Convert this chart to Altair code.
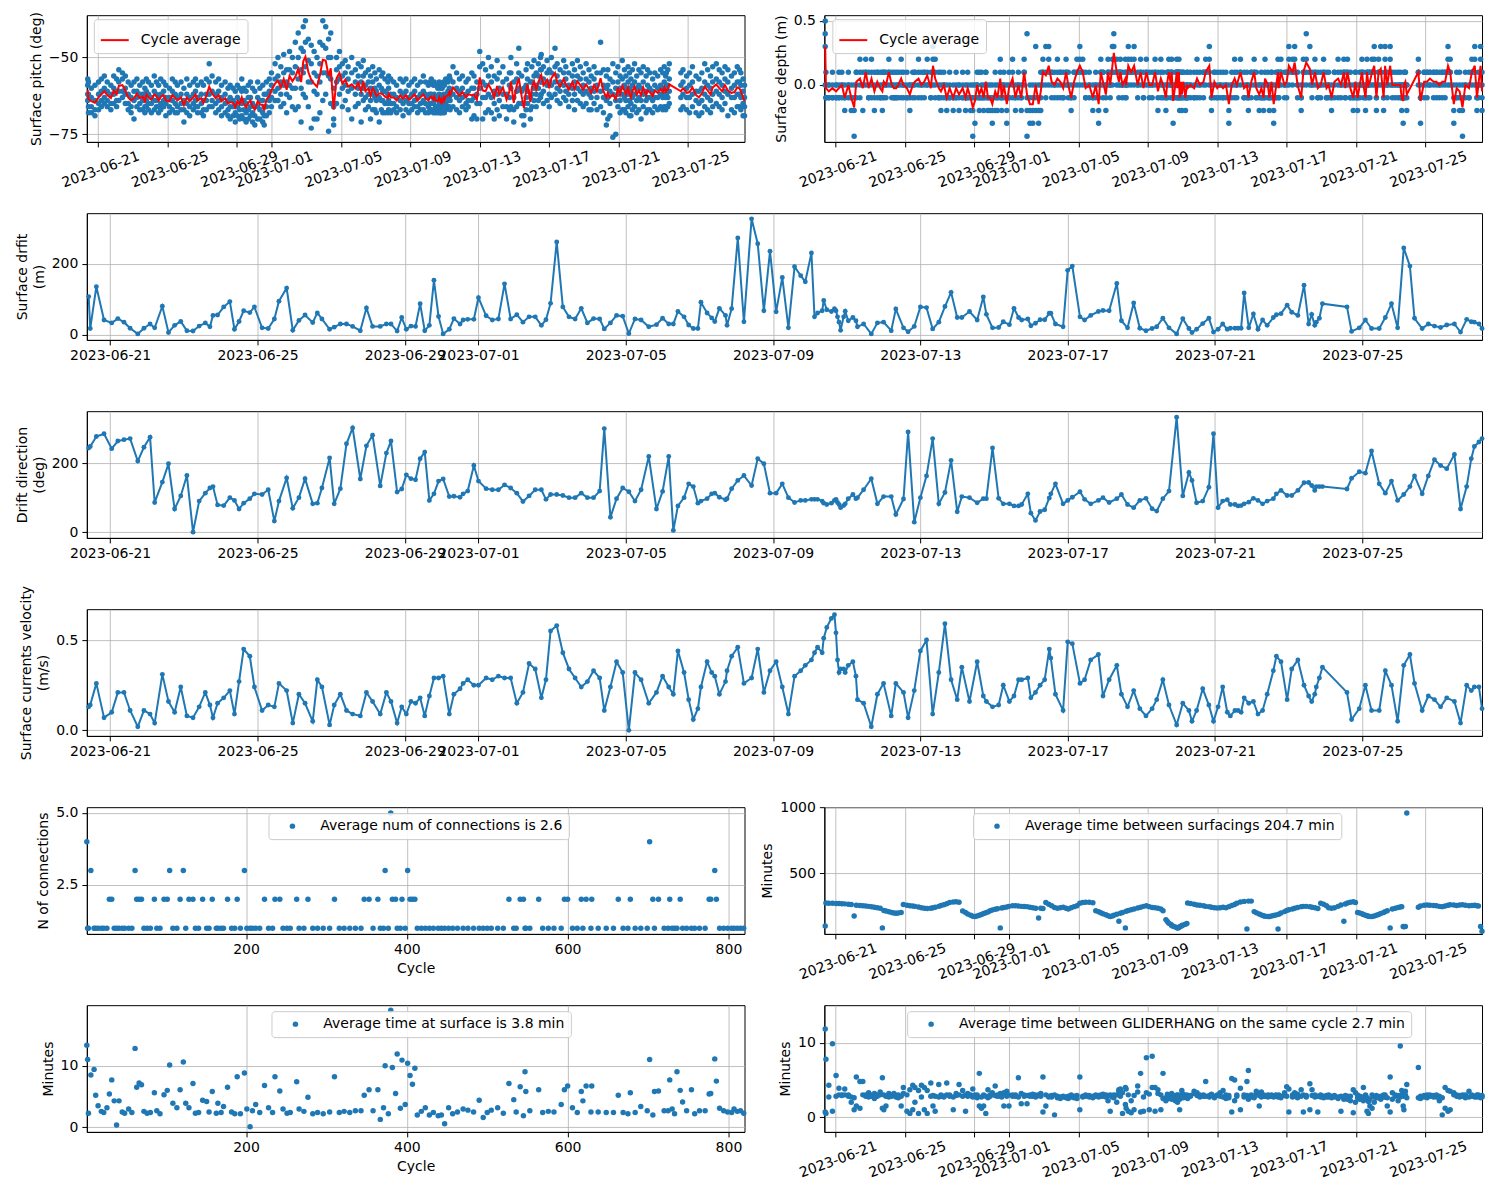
import altair as alt
import pandas as pd

# ---------------- data ----------------
# surfacing times, hours after 2023-06-20 00:00
HOURS = [10,11,15,20,25,29,33,37,42,46,50,53,58,62,66,70,74,78,82,86,
89,91,94,98,102,105,108,111,115,118,123,127,131,134,139,143,147,151,156,159,
162,167,170,174,178,182,187,191,195,200,204,207,211,214,217,220,223,226,229,232,
235,238,241,245,248,252,254,257,261,264,269,273,277,281,285,289,293,297,301,305,
308,311,315,319,323,327,331,335,339,343,346,350,354,358,362,366,370,375,380,384,
388,391,394,398,401,404,407,409,413,416,418,421,425,426,429,433,437,442,446,450,
454,458,462,466,470,474,477,481,483,485,488,489,491,494,496,497,498,499,500,502,
503,505,508,510,511,515,520,524,528,533,536,541,544,548,552,556,560,564,568,572,
576,579,584,589,593,595,599,603,606,610,613,616,618,622,624,627,630,633,636,637,
640,645,648,651,656,659,663,668,671,675,680,683,687,691,695,699,703,706,710,714,
719,723,727,729,732,736,740,743,746,749,752,754,757,759,761,763,766,769,772,775,
778,782,784,787,791,794,798,802,805,807,809,810,812,814,830,833,838,842,846,851,
855,859,863,867,871,874,879,883,887,891,895,900,904,908,911,913,916,918]

DRIFT = [107,17,135,41,33,45,35,18,2,18,30,19,80,6,26,37,11,10,24,33,
22,54,55,78,93,15,37,67,62,78,19,17,44,94,131,12,40,55,34,61,
44,15,21,30,30,23,11,75,23,23,30,30,10,48,15,24,23,87,11,26,
153,51,2,15,45,30,41,43,43,104,53,41,44,143,44,56,35,50,50,26,
42,88,261,78,50,44,74,33,45,44,16,33,54,52,3,44,41,22,28,46,
30,30,65,50,27,17,17,91,61,47,37,74,54,26,73,272,36,326,256,67,
235,64,161,19,191,166,149,230,50,61,67,96,70,65,73,67,50,35,12,50,
66,39,48,39,22,30,2,33,35,11,72,19,8,23,78,76,16,35,79,119,
48,48,65,41,106,57,19,20,36,28,74,48,41,44,25,32,42,42,60,60,
30,22,181,193,50,41,54,65,68,67,144,39,19,89,18,11,17,22,46,19,
2,45,17,6,15,31,46,7,15,30,15,18,18,18,18,117,19,58,15,41,
26,48,56,59,83,63,54,139,30,57,26,35,46,87,78,9,19,41,17,17,
48,87,19,244,193,46,17,30,24,20,27,30,7,43,36,35,30,17]

DIRECTION = [244,248,277,285,242,264,268,271,206,246,275,86,145,198,67,105,164,0,90,113,
128,132,79,77,100,92,67,84,97,111,109,123,32,90,157,69,100,155,82,84,
128,215,82,126,256,302,154,250,281,134,229,264,116,125,166,155,152,213,232,92,
111,148,154,103,104,101,111,119,193,148,126,123,123,137,128,113,89,105,123,123,
95,109,109,106,100,100,113,100,100,119,300,43,97,128,117,90,123,219,67,118,
219,5,76,100,140,132,84,90,97,111,113,101,94,97,126,150,164,135,213,198,
113,113,140,100,86,92,92,95,95,95,90,84,80,84,92,95,86,80,71,77,
82,97,109,97,100,123,155,82,103,103,51,96,290,29,100,163,271,82,115,208,
59,103,100,85,97,97,244,98,82,82,76,76,80,111,55,34,60,65,99,111,
140,82,92,101,117,95,82,92,100,86,97,109,80,71,92,98,68,61,97,119,
333,105,173,150,85,90,130,285,71,90,94,80,80,76,77,82,87,98,92,82,
90,97,111,121,106,106,121,143,144,135,121,132,132,132,125,156,175,171,235,140,
113,148,92,109,132,163,111,163,210,193,184,225,67,132,213,248,261,271]

# surface current velocity in cm/s
VELOCITY_CM = [13,14,26,7,10,21,21,11,2,11,9,4,31,16,10,24,8,7,13,21,
14,7,15,18,22,9,27,45,41,24,11,14,13,26,22,4,20,15,5,28,
24,3,14,20,11,9,8,21,16,9,21,16,4,13,9,16,15,18,8,19,
29,29,30,9,20,23,26,28,25,25,29,28,30,29,29,15,21,37,34,18,
28,55,58,43,34,29,24,27,33,29,11,24,38,32,0,32,28,15,21,30,
24,20,44,32,17,6,12,24,38,32,30,20,27,33,41,46,26,29,45,21,
33,38,24,9,30,33,36,39,43,46,43,51,57,62,64,54,39,32,34,34,
32,36,38,30,17,15,2,20,26,8,26,21,7,22,44,50,9,32,59,28,
17,35,16,38,19,16,13,14,25,16,19,28,28,29,18,21,25,28,45,40,
20,11,49,48,26,28,39,42,19,28,36,20,13,22,12,8,12,17,28,14,
3,15,11,5,11,23,14,5,13,24,10,8,11,11,10,18,15,16,9,11,
20,33,41,38,17,34,39,25,19,16,20,24,29,35,21,6,12,25,11,11,
33,25,5,36,42,26,11,19,17,13,18,16,4,25,22,24,24,12]

# pitch samples at each surfacing (deg)
PITCH = [
[-57,-59,-62,-64],[-58,-62,-66,-68],[-60,-63,-66,-68],[-59,-64,-67,-69],[-58,-62,-65,-67],
[-57,-61,-64,-66],[-56,-60,-63,-65],[-58,-61,-64,-66],[-59,-62,-65,-67],[-56,-60,-62,-65],
[-57,-61,-64,-66],[-54,-58,-61,-64],[-55,-57,-61,-63],[-56,-60,-62,-65],[-58,-62,-65,-67],
[-59,-63,-66,-68],[-58,-61,-64,-70],[-57,-61,-63,-66],[-59,-62,-65,-67],[-58,-62,-64,-67],
[-60,-63,-66,-68],[-57,-61,-64,-66],[-58,-62,-65,-67],[-59,-63,-65,-68],[-56,-61,-64,-67],
[-58,-62,-64,-66],[-59,-63,-66,-68],[-57,-62,-65,-67],[-58,-61,-64,-66],[-59,-63,-65,-69],
[-60,-63,-66,-68],[-57,-61,-64,-67],[-58,-62,-65,-68],[-59,-63,-66,-68],[-58,-62,-65,-67],
[-60,-64,-67,-71],[-57,-62,-65,-68],[-59,-63,-66,-69],[-58,-62,-65,-67],[-57,-61,-64,-66],
[-59,-63,-66,-68],[-58,-62,-65,-68],[-59,-64,-67,-69],[-57,-62,-64,-67],[-52,-58,-62,-66],
[-56,-61,-64,-66],[-58,-62,-65,-68],[-57,-61,-64,-67],[-59,-63,-66,-69],[-58,-62,-65,-68],
[-60,-64,-67,-69],[-59,-63,-66,-70],[-60,-64,-66,-69],[-61,-65,-68,-71],[-59,-63,-66,-69],
[-60,-64,-67,-70],[-57,-61,-65,-69],[-60,-64,-67,-70],[-61,-65,-68,-71],[-59,-63,-67,-70],
[-58,-63,-66,-69],[-60,-65,-68,-71],[-61,-66,-69,-72],[-58,-63,-66,-70],[-60,-64,-67,-70],
[-59,-64,-68,-71],[-62,-66,-69,-72],[-58,-62,-66,-69],[-57,-61,-64,-68],[-55,-59,-63,-66],
[-52,-57,-61,-64],[-50,-56,-60,-64],[-53,-58,-62,-66],[-49,-55,-59,-65],[-54,-58,-62,-68],
[-48,-54,-59,-63],[-50,-55,-60,-66],[-45,-53,-60,-67],[-42,-50,-57,-66],[-47,-54,-60,-71],
[-40,-48,-55,-62],[-38,-45,-53,-63],[-44,-51,-58,-66],[-46,-52,-58,-73],[-48,-55,-61,-70],
[-50,-56,-62,-70],[-45,-52,-58,-68],[-38,-46,-55,-64],[-40,-47,-55,-62],[-44,-50,-56,-74],
[-42,-50,-57,-65],[-60,-66,-70,-72],[-50,-54,-58,-65],[-48,-53,-57,-62],[-52,-56,-60,-66],
[-51,-55,-59,-64],[-53,-57,-61,-67],[-50,-55,-60,-70],[-54,-58,-62,-66],[-52,-56,-60,-65],
[-53,-58,-62,-71],[-51,-56,-60,-64],[-55,-59,-63,-67],[-54,-58,-62,-66],[-56,-60,-64,-70],
[-53,-58,-62,-67],[-55,-60,-63,-67],[-57,-61,-64,-68],[-54,-59,-63,-71],[-56,-60,-64,-67],
[-55,-61,-64,-68],[-57,-61,-65,-68],[-58,-62,-65,-68],[-56,-60,-64,-67],[-57,-62,-65,-68],
[-58,-62,-65,-67],[-59,-63,-66,-68],[-57,-61,-64,-67],[-58,-62,-65,-69],[-57,-61,-64,-67],
[-59,-63,-65,-68],[-58,-62,-65,-67],[-57,-61,-64,-66],[-59,-63,-66,-68],[-58,-62,-65,-67],
[-56,-61,-64,-67],[-58,-62,-65,-68],[-59,-63,-66,-68],[-58,-62,-65,-67],[-57,-62,-65,-67],
[-59,-63,-65,-68],[-58,-62,-64,-67],[-59,-63,-66,-68],[-60,-63,-66,-68],[-58,-62,-65,-67],
[-59,-63,-66,-68],[-60,-64,-66,-68],[-59,-63,-66,-67],[-60,-64,-66,-68],[-58,-62,-65,-67],
[-59,-63,-66,-68],[-57,-62,-65,-67],[-58,-61,-64,-66],[-56,-60,-63,-66],[-57,-61,-64,-67],
[-53,-58,-62,-66],[-55,-60,-63,-67],[-57,-61,-64,-68],[-56,-60,-63,-66],[-58,-62,-65,-67],
[-57,-61,-64,-66],[-55,-60,-64,-70],[-56,-60,-63,-69],[-58,-62,-65,-70],[-48,-53,-60,-65],
[-52,-58,-63,-70],[-54,-59,-63,-68],[-50,-56,-62,-67],[-53,-58,-63,-68],[-56,-61,-65,-70],
[-51,-57,-62,-67],[-55,-60,-64,-69],[-53,-58,-62,-66],[-57,-62,-66,-70],[-55,-59,-63,-67],
[-50,-55,-60,-66],[-58,-63,-67,-71],[-52,-57,-61,-66],[-47,-55,-60,-65],[-56,-61,-65,-69],
[-60,-65,-69,-72],[-54,-59,-63,-67],[-52,-57,-61,-65],[-58,-63,-67,-70],[-53,-58,-62,-66],
[-51,-56,-60,-64],[-55,-59,-62,-66],[-52,-56,-60,-64],[-50,-54,-58,-63],[-49,-54,-58,-62],
[-53,-57,-61,-65],[-51,-55,-59,-64],[-54,-58,-62,-66],[-50,-55,-59,-63],[-47,-53,-58,-62],
[-52,-56,-60,-64],[-54,-58,-61,-65],[-51,-55,-59,-63],[-53,-57,-61,-64],[-55,-59,-62,-66],
[-52,-56,-60,-64],[-54,-58,-62,-67],[-51,-56,-60,-64],[-53,-57,-61,-65],[-55,-59,-62,-66],
[-52,-57,-61,-65],[-54,-58,-62,-67],[-56,-60,-63,-67],[-53,-57,-61,-65],[-55,-59,-63,-67],
[-45,-55,-61,-66],[-54,-59,-63,-68],[-56,-60,-64,-72],[-54,-59,-63,-70],[-57,-61,-65,-69],
[-52,-58,-62,-76],[-55,-60,-64,-75],[-53,-58,-62,-66],[-56,-60,-64,-68],[-51,-57,-62,-67],
[-54,-59,-63,-67],[-56,-60,-64,-68],[-53,-58,-62,-66],[-55,-60,-64,-69],[-57,-61,-65,-69],
[-54,-59,-63,-67],[-52,-58,-62,-66],[-56,-60,-64,-68],[-54,-59,-63,-67],[-55,-60,-64,-70],
[-53,-58,-62,-66],[-56,-61,-64,-68],[-54,-59,-63,-67],[-55,-60,-63,-67],[-57,-61,-64,-68],
[-55,-59,-63,-66],[-56,-60,-63,-67],[-54,-59,-62,-66],[-55,-60,-63,-67],[-53,-58,-62,-66],
[-56,-60,-63,-67],[-55,-59,-62,-66],[-54,-59,-63,-66],[-52,-57,-61,-65],[-55,-59,-63,-67],
[-54,-58,-62,-66],[-56,-60,-63,-67],[-55,-59,-63,-68],[-53,-58,-62,-66],[-56,-61,-64,-68],
[-57,-61,-65,-69],[-55,-60,-64,-68],[-52,-58,-62,-66],[-54,-59,-63,-67],[-56,-60,-64,-68],
[-53,-58,-62,-66],[-52,-57,-61,-65],[-54,-58,-62,-66],[-55,-59,-63,-67],[-53,-57,-61,-65],
[-54,-58,-62,-69],[-56,-60,-63,-67],[-55,-59,-63,-68],[-53,-58,-62,-66],[-54,-58,-62,-66],
[-55,-59,-63,-67],[-57,-61,-65,-69],[-59,-63,-66,-69]]

# surface depth samples at each surfacing, in decimetres
DEPTH_DM = [
[5,4,3,0],[0,-1,-1,1],[0,-1,0,-1],[1,-1,0,-1],[0,-1,-1,0],[1,0,-1,-1],[0,1,-1,0],[-1,0,-2,-1],[1,0,-1,0],[-1,-2,0,-1],
[-4,-1,0,-2],[0,1,-1,1],[2,1,0,-1],[1,0,-2,0],[2,1,1,0],[0,-1,1,-1],[1,2,0,-1],[-2,-1,0,1],[1,0,-1,1],[0,1,-1,-1],
[-1,-2,0,1],[1,1,0,-1],[0,-1,1,0],[2,1,0,1],[1,0,-1,0],[0,1,-1,-1],[-1,0,1,-1],[0,1,-1,0],[1,2,0,-1],[-1,0,1,0],
[0,-1,-1,1],[-2,-1,0,0],[1,0,-1,0],[0,1,1,-1],[2,1,0,-1],[0,-1,1,0],[1,0,-1,1],[2,1,0,0],[-1,0,1,-1],[3,2,1,0],
[1,2,0,-1],[0,1,-1,-1],[-1,0,-2,1],[0,1,-1,0],[-1,-1,0,-2],[0,-1,-1,1],[-2,-1,0,-1],[1,0,-1,-1],[-1,-2,0,0],[1,0,-1,-1],
[-1,-2,-1,0],[0,-1,1,-1],[-2,-1,-1,0],[-4,-2,-1,0],[-3,-1,0,-1],[1,0,-1,0],[-1,-2,-1,1],[0,1,-1,-1],[-2,-1,0,-1],[1,0,-1,1],
[-1,-2,0,-1],[0,-1,-2,-1],[-3,-2,-1,0],[1,0,-1,-2],[-2,-1,0,-1],[1,2,0,-1],[-2,-1,-1,0],[0,1,-1,0],[-2,-3,-1,0],[1,0,-1,-1],
[2,1,0,-1],[-1,-2,0,-1],[1,0,-1,0],[-2,-1,0,-1],[2,1,1,0],[4,-4,-2,-1],[-3,-2,-1,0],[-3,-1,0,-2],[3,0,-1,-2],[-3,-2,-1,0],
[1,0,-1,-2],[2,1,0,1],[3,1,0,-1],[3,2,1,0],[1,0,1,-1],[0,-1,1,0],[2,1,0,-1],[1,0,1,-1],[-1,0,1,-1],[2,1,1,0],
[0,1,-1,0],[-1,-2,0,-1],[1,0,-1,1],[2,1,0,1],[3,2,1,0],[1,2,0,1],[-1,0,1,-1],[0,1,-1,0],[-2,-1,0,-1],[1,0,-1,0],
[-3,-2,-1,0],[2,1,0,1],[1,0,1,-1],[-2,-1,0,0],[2,1,0,1],[0,-1,1,0],[3,2,1,0],[4,3,2,1],[1,2,0,1],[0,1,1,-1],
[2,1,0,1],[-1,0,1,0],[1,2,0,-1],[0,-1,1,0],[3,2,1,0],[1,0,2,1],[2,3,1,0],[0,1,-1,0],[1,2,0,1],[-1,0,1,-1],
[2,1,0,1],[0,1,-1,0],[1,0,-1,0],[2,1,1,0],[-1,0,1,-2],[1,2,0,-1],[0,1,-1,0],[-2,-1,0,-1],[1,0,1,-1],[2,1,0,1],
[0,-1,1,0],[1,2,1,0],[-3,-1,0,-1],[1,0,-1,0],[2,1,0,1],[-1,0,1,-1],[0,1,-1,1],[1,2,0,1],[-1,0,-1,-2],[0,1,1,-1],
[-2,-1,0,0],[1,0,-1,1],[-1,0,-1,-2],[0,1,-1,0],[-1,0,1,-1],[1,0,-1,0],[0,1,-1,-1],[1,2,0,-1],[0,-1,1,0],[1,0,-1,1],
[2,1,0,1],[3,2,1,0],[-2,-1,0,-1],[1,0,1,-1],[0,-1,-1,1],[1,0,-1,0],[-1,0,1,-1],[0,1,-1,0],[-3,-2,-1,0],[1,0,-1,0],
[2,1,0,-1],[0,-1,1,0],[1,2,0,1],[-1,0,1,-1],[0,1,-1,0],[-2,-1,0,-1],[1,0,-1,1],[2,1,0,1],[0,1,-1,-1],[-2,-1,0,0],
[1,0,-1,-1],[-1,0,-2,-1],[1,2,0,-1],[0,1,-1,0],[-1,-2,0,-1],[1,0,1,-1],[-3,-2,-1,0],[0,1,-1,-1],[2,1,0,1],[-1,0,1,-1],
[1,2,0,1],[0,-1,1,0],[1,0,-1,1],[3,2,1,0],[1,2,0,1],[2,3,1,1],[0,1,-1,0],[-2,-1,0,-1],[2,1,0,1],[4,2,1,0],
[3,1,0,1],[1,0,-1,0],[2,1,0,1],[-1,0,1,-1],[1,0,-1,0],[2,1,0,1],[-1,0,1,-1],[0,1,-1,0],[-1,-2,0,-1],[1,0,-1,1],
[2,1,0,-1],[0,-1,1,0],[1,2,0,1],[-1,0,1,-1],[2,1,0,1],[0,-1,-1,1],[-2,-1,0,-1],[1,0,1,-1],[-1,0,-1,-2],[0,1,-1,0],
[2,1,0,1],[0,-1,1,0],[-2,-1,0,-1],[1,2,0,1],[0,-1,1,0],[1,0,-1,1],[2,1,0,1],[3,2,1,0],[-1,0,-2,-1],[2,1,0,1],
[3,1,0,1],[-2,-1,0,-1],[2,3,1,0],[0,1,-1,0],[3,2,1,0],[1,0,-1,0],[0,1,-1,0],[1,0,0,-1],[0,1,-1,0],[-2,-1,0,-1],
[-3,-1,0,-1],[0,1,-1,0],[1,0,1,-1],[-2,-1,0,0],[2,1,0,1],[-3,-1,0,-1],[1,0,1,-1],[0,1,1,-1],[1,0,1,0],[0,1,-1,1],
[1,0,1,-1],[0,1,0,-1],[1,0,1,-1],[0,1,-1,1],[3,2,1,0],[2,1,1,0],[-3,-2,-1,0],[1,0,-1,-1],[-1,0,1,-2],[-4,-2,-1,0],
[1,0,-1,0],[0,1,-1,-1],[2,1,0,1],[3,2,1,0],[-2,-1,0,-1],[1,0,-1,0],[3,2,1,0],[-2,0,1,-1]]

# minutes between surfacings
SURF_INTERVAL = [97,272,270,270,268,268,266,265,262,260,173,255,252,250,248,246,243,240,236,232,
82,214,210,205,200,196,194,196,200,260,255,250,248,246,242,236,232,230,232,236,
240,246,252,258,266,275,280,281,278,210,200,188,178,170,168,172,178,184,192,198,
204,212,218,224,228,82,234,238,242,246,250,250,248,246,245,244,240,236,232,158,
232,230,276,262,250,238,232,236,240,232,226,236,244,250,270,276,278,278,274,212,
205,198,190,182,174,168,172,178,186,133,194,200,82,208,214,220,226,234,240,246,
250,244,238,236,232,226,212,145,130,118,108,100,94,88,84,82,82,86,90,95,
100,104,110,116,272,268,262,256,254,250,246,244,240,236,234,236,240,236,244,252,
260,270,280,284,74,286,286,206,198,188,180,174,170,168,168,172,176,180,74,186,
196,206,214,220,226,232,238,244,246,246,244,240,236,230,270,262,250,236,232,236,
246,256,133,264,272,278,282,276,200,196,190,184,178,174,170,168,168,172,178,184,
192,200,206,212,82,226,232,238,242,244,92,90,92,958,240,248,254,256,254,252,
250,246,244,248,254,258,256,252,256,258,254,250,252,254,250,248,92,56]

# time between GLIDERHANG messages (tenths of a minute), two per surfacing
HANG_A = [119,78,43,99,56,39,30,38,30,27,26,54,48,48,30,33,28,32,30,34,
53,30,28,32,30,31,29,26,28,40,30,37,43,40,36,43,40,36,46,29,
28,44,30,28,46,30,27,32,44,36,30,28,30,38,28,30,59,27,30,28,
37,30,31,29,28,32,30,33,28,30,28,30,53,32,28,29,30,28,30,29,
32,54,30,28,27,30,26,27,28,26,28,27,28,29,54,28,30,27,28,30,
29,30,28,30,29,30,28,26,20,37,38,33,40,38,30,22,29,42,59,27,
80,31,82,40,37,30,59,26,31,28,27,32,29,28,25,27,30,26,24,30,
28,31,28,30,26,29,35,33,30,28,48,29,30,28,30,33,36,30,26,52,
50,28,39,27,48,63,30,28,32,29,34,30,28,27,29,30,28,29,27,30,
28,33,41,38,30,28,31,28,30,29,45,37,30,28,30,28,27,30,28,29,
27,28,26,27,24,28,37,33,30,28,25,40,30,26,21,24,30,27,29,26,
28,27,30,26,54,33,28,29,96,30,15,28,30,44,67,28,27,30,28,29,
27,28,3,40,8,35,33,30,29,28,30,35,28,27,30,28,27,29]
HANG_B = [7,5,27,8,28,30,29,30,28,20,10,15,12,30,28,27,30,25,28,30,
12,10,15,27,28,32,27,30,15,32,8,5,10,20,5,27,10,5,28,15,
8,27,28,27,30,28,10,29,30,28,8,32,29,27,30,26,15,12,15,5,
26,28,33,42,30,28,27,15,35,15,30,28,27,18,30,18,28,31,27,30,
28,7,15,27,29,3,28,25,27,27,25,30,26,25,10,27,28,29,26,28,
27,28,31,27,22,8,27,30,30,35,28,5,17,12,8,6,10,34,7,8,
33,10,40,8,32,10,25,22,27,25,30,24,27,22,30,20,26,28,10,27,
36,26,29,27,25,28,32,29,27,30,28,27,31,26,29,28,27,25,29,7,
22,30,10,30,29,24,27,26,35,15,27,28,29,30,28,28,27,30,28,28,
26,29,28,7,27,33,26,37,7,27,10,29,27,7,27,26,29,27,26,27,
25,8,24,29,28,22,6,20,26,24,27,22,28,8,5,15,12,20,26,27,
24,30,27,15,7,24,30,22,27,36,30,10,35,26,26,25,29,26,30,27,
30,22,26,12,36,10,30,28,27,30,26,27,30,28,27,30,26,27]

# per-cycle panels
CYCLES = [2,3,4,7,11,13,16,20,23,27,30,33,36,39,42,46,49,54,58,62,
64,67,70,73,77,81,86,89,93,98,102,105,109,114,118,122,125,129,134,137,
141,146,151,154,158,163,165,169,172,177,182,186,189,193,198,201,205,208,212,217,
223,228,233,236,242,246,251,255,263,266,272,277,283,289,296,304,310,316,322,329,
336,343,347,353,358,364,367,371,373,377,380,382,386,388,392,394,398,401,404,407,
410,413,418,423,428,433,439,443,447,452,457,463,470,476,483,490,495,500,505,513,
520,527,533,536,541,545,547,548,553,564,569,576,583,592,596,600,606,612,617,619,
623,629,630,638,648,657,663,669,675,678,684,691,699,702,706,708,713,720,725,727,
730,733,736,740,743,748,754,758,764,771,776,778,783,785,789,794,799,804,807,811,
815,819]
CONNECTIONS = [4,1,1,3,1,1,1,1,1,1,2,2,1,1,1,1,1,1,1,3,
2,2,2,1,1,1,2,1,1,2,2,3,1,1,2,3,1,2,2,1,
1,2,1,1,2,1,1,1,1,2,1,1,2,1,3,1,1,1,1,1,
2,1,1,2,2,1,1,1,2,1,1,2,1,1,1,1,2,1,1,1,
1,1,2,2,1,2,1,1,3,1,5,2,2,1,1,2,1,3,2,2,
2,1,1,1,1,1,1,1,1,1,1,1,1,1,1,1,1,1,1,1,
1,2,1,1,2,2,1,1,1,2,1,1,1,1,2,2,1,1,2,1,
2,1,2,1,1,1,2,1,1,2,1,1,1,4,2,1,2,1,1,2,
1,1,1,2,1,1,1,1,1,1,2,2,3,2,1,1,1,1,1,1,
1,1]
TIME_AT_SURFACE = [13.3,11,2.3,8.5,9.4,5.2,3.5,2.6,2.4,3.2,5.4,7.7,4.3,0.4,4.3,2.5,2.3,3,2.4,12.8,
6.5,7.2,6.9,2.6,2.3,2.4,5.6,2.7,2.2,5.3,6,10.1,3.9,3.2,6.1,10.6,3.9,3.2,7.1,2.3,
2.4,4.4,4.2,2.5,5.8,2.3,3.9,2.4,3.4,6.5,2.5,2.2,8.2,2.2,8.8,3,0.1,2.7,3.7,2.4,
6.8,3.2,2.4,8.2,5.9,3,2.3,2.4,7.4,3,2.6,4.9,2.2,2.4,2.2,2.5,8.2,2.4,2.6,2.4,
2.7,2.7,5.2,6.1,2.7,6.1,1.3,3.2,10,2.2,19,9.7,5.5,11.9,3.1,10.9,3.7,10.4,8.4,7,
9.6,2,2.6,3.2,2,2.4,1.9,2,0.6,3.2,2.2,2.5,3,2.8,2.5,4.4,1.6,2.4,2.8,3.2,
2.3,7.1,4.5,2.5,6.6,1.9,9,5.8,2.7,6.1,2.4,2.6,2.5,3.7,6.1,6.7,3.2,2.4,5.8,4.3,
6.7,2.5,6.7,2.5,2.4,2.4,5.2,2.4,2.2,5.6,2.4,3.4,2.7,11,2,5.8,5.9,2.7,2.7,7.7,
3,2.2,9,6,4.1,2.7,6.1,2.2,2.7,2.7,5.4,5.5,11.1,7.5,3.1,2.7,2.5,2.4,3,2.6,
2.7,2.3]

LEG_CONN = "Average num of connections is 2.6"
LEG_SURF = "Average time between surfacings 204.7 min"
LEG_TSURF = "Average time at surface is 3.8 min"
LEG_HANG = "Average time between GLIDERHANG on the same cycle 2.7 min"

# ---------------- build tables ----------------
BLUE = "#1f77b4"
FONT = "DejaVu Sans"
base = pd.Timestamp("2023-06-20")
TIMES = [base + pd.Timedelta(hours=h) for h in HOURS]

n = min(len(TIMES), len(DRIFT), len(DIRECTION), len(VELOCITY_CM))
series = pd.DataFrame({"t": TIMES[:n], "drift": DRIFT[:n], "dir": DIRECTION[:n],
                       "vel": [v / 100 for v in VELOCITY_CM[:n]]})

pitch_pts = pd.DataFrame([(t, v) for t, vals in zip(TIMES, PITCH) for v in vals], columns=["t", "v"])
pitch_avg = pd.DataFrame([(t, sum(vals) / len(vals), "Cycle average") for t, vals in zip(TIMES, PITCH)],
                         columns=["t", "v", "s1"])
depth_pts = pd.DataFrame([(t, v / 10) for t, vals in zip(TIMES, DEPTH_DM) for v in vals], columns=["t", "v"])
depth_avg = pd.DataFrame([(t, sum(vals) / len(vals) / 10, "Cycle average") for t, vals in zip(TIMES, DEPTH_DM)],
                         columns=["t", "v", "s2"])
surf_df = pd.DataFrame([(t, v, LEG_SURF) for t, v in zip(TIMES, SURF_INTERVAL)], columns=["t", "v", "s3"])
hang_df = pd.DataFrame([(t, v / 10, LEG_HANG) for t, a, b in zip(TIMES, HANG_A, HANG_B) for v in (a, b)],
                       columns=["t", "v", "s4"])
conn_df = pd.DataFrame([(c, v, LEG_CONN) for c, v in zip(CYCLES, CONNECTIONS)], columns=["c", "v", "s5"])
tsurf_df = pd.DataFrame([(c, v, LEG_TSURF) for c, v in zip(CYCLES, TIME_AT_SURFACE)], columns=["c", "v", "s6"])

# ---------------- helpers ----------------
def dt(y, m, d, h=0, mi=0):
    return alt.DateTime(year=y, month=m, date=d, hours=h, minutes=mi)

X_DOMAIN = [dt(2023, 6, 20, 8, 48), dt(2023, 7, 28, 6, 0)]
DATE_TICKS = [dt(2023, 6, 21), dt(2023, 6, 25), dt(2023, 6, 29), dt(2023, 7, 1), dt(2023, 7, 5),
              dt(2023, 7, 9), dt(2023, 7, 13), dt(2023, 7, 17), dt(2023, 7, 21), dt(2023, 7, 25)]


def x_date(rot):
    kw = dict(values=DATE_TICKS, format="%Y-%m-%d")
    if rot:
        kw.update(labelAngle=340, labelAlign="center", labelBaseline="top", labelPadding=16)
    return alt.X("t:T", title=None, scale=alt.Scale(domain=X_DOMAIN, nice=False), axis=alt.Axis(**kw))


def x_cycle():
    return alt.X("c:Q", title="Cycle", scale=alt.Scale(domain=[2, 820], nice=False, zero=False),
                 axis=alt.Axis(values=[200, 400, 600, 800], format="d"))


def y_axis(field, domain, values, title, fmt="d"):
    return alt.Y(field, title=title, scale=alt.Scale(domain=domain, nice=False, zero=False),
                 axis=alt.Axis(values=values, format=fmt))


def legend(x, y, kind):
    kw = dict(orient="none", legendX=x, legendY=y, fillColor="rgba(255,255,255,0.85)",
              strokeColor="#cccccc", cornerRadius=3, padding=6, labelFont=FONT, labelFontSize=14,
              labelColor="black", labelLimit=800)
    if kind == "line":
        kw.update(symbolType="stroke", symbolSize=784, symbolStrokeWidth=2, labelOffset=11)
    else:
        kw.update(symbolType="circle", symbolSize=30, symbolOffset=11, labelOffset=21, symbolStrokeWidth=0)
    return alt.Legend(**kw)


def one_color(field, label, color, leg):
    return alt.Color(field, title=None, scale=alt.Scale(domain=[label], range=[color]), legend=leg)


def row(*charts):
    return alt.hconcat(*charts, spacing=80, bounds="flush").resolve_scale(
        x="independent", y="independent", color="independent").resolve_legend(color="independent")


W_HALF, W_FULL, H = 659, 1398, 127

# row 1
y_pitch = y_axis("v:Q", [-77.5, -36.2], [-75, -50], "Surface pitch (deg)")
pitch = alt.layer(
    alt.Chart(pitch_pts).mark_circle(size=30, color=BLUE, opacity=1).encode(x=x_date(True), y=y_pitch),
    alt.Chart(pitch_avg).mark_line(strokeWidth=2).encode(
        x=x_date(True), y=y_pitch,
        color=one_color("s1:N", "Cycle average", "red", legend(7, 4, "line"))),
).properties(width=W_HALF, height=H)

y_depth = y_axis("v:Q", [-0.445, 0.545], [0.0, 0.5], "Surface depth (m)", ".1f")
depth = alt.layer(
    alt.Chart(depth_pts).mark_circle(size=30, color=BLUE, opacity=1).encode(x=x_date(True), y=y_depth),
    alt.Chart(depth_avg).mark_line(strokeWidth=2).encode(
        x=x_date(True), y=y_depth,
        color=one_color("s2:N", "Cycle average", "red", legend(8, 4, "line"))),
).properties(width=W_HALF, height=H)

# rows 2-4
pt = alt.OverlayMarkDef(size=24, filled=True, color=BLUE, opacity=1)
drift = alt.Chart(series).mark_line(strokeWidth=2, color=BLUE, point=pt).encode(
    x=x_date(False), y=y_axis("drift:Q", [-15, 342], [0, 200], ["Surface drfit", "(m)"])
).properties(width=W_FULL, height=H)
direction = alt.Chart(series).mark_line(strokeWidth=2, color=BLUE, point=pt).encode(
    x=x_date(False), y=y_axis("dir:Q", [-16.7, 350.5], [0, 200], ["Drift direction", "(deg)"])
).properties(width=W_FULL, height=H)
velocity = alt.Chart(series).mark_line(strokeWidth=2, color=BLUE, point=pt).encode(
    x=x_date(False), y=y_axis("vel:Q", [-0.031, 0.671], [0.0, 0.5], ["Surface currents velocity", "(m/s)"], ".1f")
).properties(width=W_FULL, height=H)

# row 5
conn = alt.Chart(conn_df).mark_circle(size=30, opacity=1).encode(
    x=x_cycle(), y=y_axis("v:Q", [0.8, 5.2], [2.5, 5.0], "N of connections", ".1f"),
    color=one_color("s5:N", LEG_CONN, BLUE, legend(182, 6, "dot"))
).properties(width=W_HALF, height=H)
surf = alt.Chart(surf_df).mark_circle(size=30, opacity=1).encode(
    x=x_date(True), y=y_axis("v:Q", [36, 1002], [500, 1000], "Minutes"),
    color=one_color("s3:N", LEG_SURF, BLUE, legend(149, 6, "dot"))
).properties(width=W_HALF, height=H)

# row 6
tsurf = alt.Chart(tsurf_df).mark_circle(size=30, opacity=1).encode(
    x=x_cycle(), y=y_axis("v:Q", [-0.73, 19.8], [0, 10], "Minutes"),
    color=one_color("s6:N", LEG_TSURF, BLUE, legend(185, 6, "dot"))
).properties(width=W_HALF, height=H)
hang = alt.Chart(hang_df).mark_circle(size=30, opacity=1).encode(
    x=x_date(True), y=y_axis("v:Q", [-2.0, 15.1], [0, 10], "Minutes"),
    color=one_color("s4:N", LEG_HANG, BLUE, legend(83, 6, "dot"))
).properties(width=W_HALF, height=H)

# every row is a nested (flush) group, so the row pitch is set by the spacing alone
chart = alt.vconcat(
    row(pitch, depth), row(drift), row(direction), row(velocity), row(conn, surf), row(tsurf, hang),
    spacing=198.4, bounds="flush"
).resolve_scale(
    x="independent", y="independent", color="independent"
).resolve_legend(color="independent").properties(
    padding={"left": 6, "top": 1, "right": 5, "bottom": 5}
).configure_axis(
    labelFont=FONT, labelFontSize=14, titleFont=FONT, titleFontSize=14, titleFontWeight="normal",
    labelColor="black", titleColor="black", gridColor="#b0b0b0", gridWidth=0.8,
    domainColor="black", tickColor="black", tickSize=5, labelPadding=4, titlePadding=5,
    labelFlush=False, labelOverlap=False, titleLineHeight=17
).configure_view(stroke="black", strokeWidth=1)

chart.save("out.html", embed_options={"renderer": "svg", "actions": False})
